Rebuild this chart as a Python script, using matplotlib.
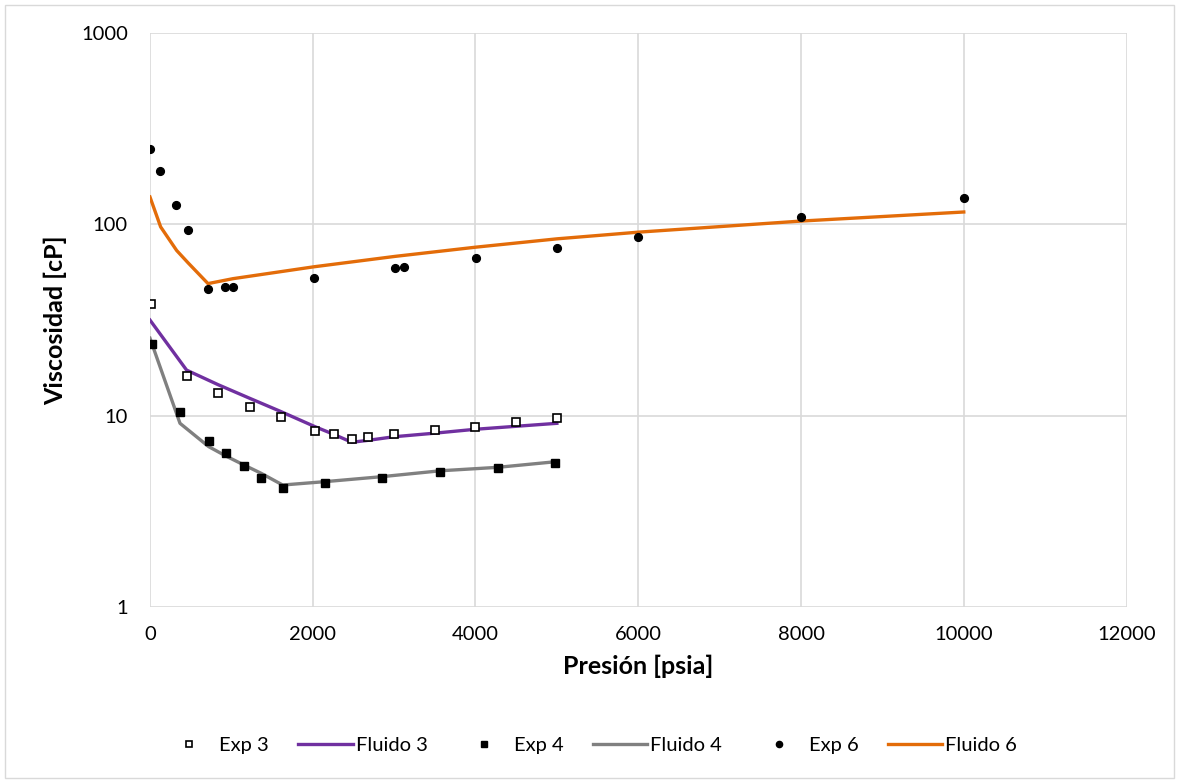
import matplotlib.pyplot as plt
from matplotlib.patches import Rectangle

# Exp 3 / Fluido 3
p_exp3 = [15, 450, 840, 1230, 1610, 2030, 2260, 2480, 2680, 3000, 3500, 4000, 4500, 5000]
mu_exp3 = [38.4, 16.1, 13.1, 11.1, 9.84, 8.35, 8.05, 7.55, 7.76, 7.98, 8.41, 8.75, 9.23, 9.69]
p_fl3 = [0, 450, 840, 1230, 1610, 2030, 2260, 2480, 2680, 3000, 3500, 4000, 4500, 5000]
mu_fl3 = [31.6, 17.3, 14.5, 12.3, 10.5, 8.75, 7.98, 7.26, 7.43, 7.76, 8.1, 8.49, 8.8, 9.12]

# Exp 4 / Fluido 4
p_exp4 = [25, 369, 721, 934, 1156, 1365, 1631, 2152, 2853, 3566, 4275, 4976]
mu_exp4 = [23.6, 10.4, 7.37, 6.40, 5.47, 4.74, 4.19, 4.46, 4.74, 5.09, 5.35, 5.68]
p_fl4 = [0, 369, 721, 934, 1156, 1365, 1631, 2152, 2853, 3566, 4275, 4976]
mu_fl4 = [25.4, 9.12, 6.89, 6.15, 5.52, 5.00, 4.34, 4.52, 4.80, 5.15, 5.37, 5.74]

# Exp 6 / Fluido 6
p_exp6 = [0, 123, 320, 467, 713, 922, 1020, 2016, 3012, 3123, 4008, 5004, 6000, 8000, 10000]
mu_exp6 = [248, 190, 126, 93, 46, 47, 47, 52.5, 59, 60, 66.7, 75, 86, 109, 137]
p_fl6 = [0, 131, 328, 467, 713, 1020, 2016, 3012, 4008, 5004, 6000, 8000, 10000]
mu_fl6 = [139, 97, 73, 63, 49, 52, 60, 68, 76, 84, 91, 104, 116]

plt.rcParams['font.family'] = ['Lato', 'DejaVu Sans']

fig = plt.figure(figsize=(11.79, 7.82), dpi=100)
ax = fig.add_axes([0.1272, 0.2238, 0.8283, 0.734])

ax.plot(p_exp3, mu_exp3, 's', ms=5.3, mfc='white', mec='black', mew=1.2, ls='none', label='Exp 3', zorder=4)
ax.plot(p_fl3, mu_fl3, '-', color='#7030a0', lw=2.4, label='Fluido 3', zorder=3)
ax.plot(p_exp4, mu_exp4, 's', ms=5.3, color='black', ls='none', label='Exp 4', zorder=4)
ax.plot(p_fl4, mu_fl4, '-', color='#808080', lw=2.4, label='Fluido 4', zorder=3)
ax.plot(p_exp6, mu_exp6, 'o', ms=5.6, color='black', ls='none', label='Exp 6', zorder=4)
ax.plot(p_fl6, mu_fl6, '-', color='#e36c09', lw=2.4, label='Fluido 6', zorder=3)

ax.set_yscale('log')
ax.set_xlim(0, 12000)
ax.set_ylim(1, 1000)
ax.set_xticks(range(0, 12001, 2000))
ax.set_yticks([1, 10, 100, 1000])
ax.set_yticklabels(['1', '10', '100', '1000'])
ax.minorticks_off()
ax.grid(True, color='#d9d9d9', lw=1.2)
ax.set_axisbelow(True)
for s in ax.spines.values():
    s.set_visible(False)
ax.tick_params(length=0, labelsize=14.5, colors='black')
ax.tick_params(axis='y', pad=16)
ax.tick_params(axis='x', pad=14)

ax.set_xlabel('Presión [psia]', fontsize=18, fontweight='bold', labelpad=8)
ax.set_ylabel('Viscosidad [cP]', fontsize=18, fontweight='bold', labelpad=10)

fig.legend(loc='center', bbox_to_anchor=(0.5, 0.047), ncol=6, frameon=False,
           fontsize=14.5, handlelength=2.7, columnspacing=1.45, handletextpad=0.15,
           markerscale=0.8)

fig.patches.append(Rectangle((0.004, 0.005), 0.992, 0.989, transform=fig.transFigure,
                             fill=False, edgecolor='#d9d9d9', lw=1))

fig.savefig('out.png', dpi=100)
